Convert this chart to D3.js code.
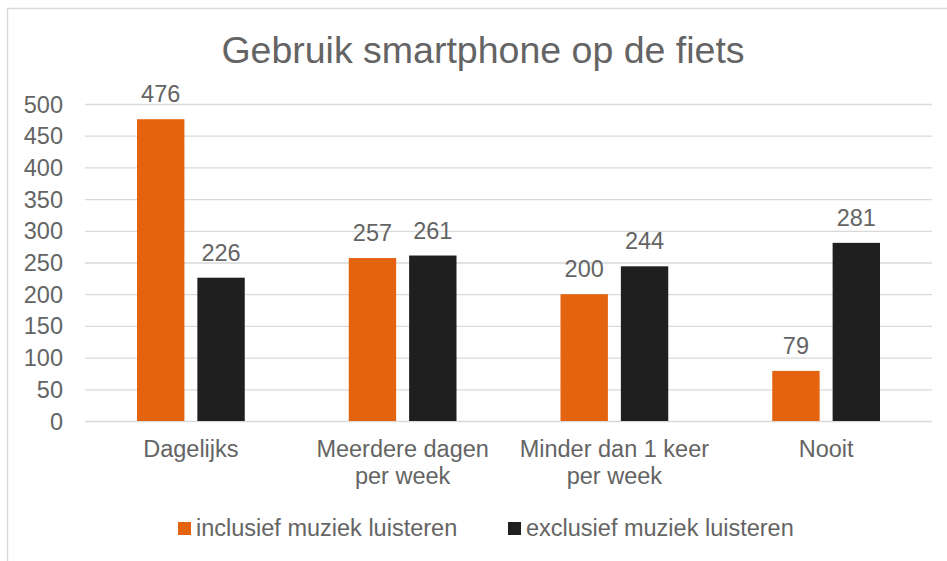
<!DOCTYPE html>
<html>
<head>
<meta charset="utf-8">
<script src="https://cdn.jsdelivr.net/npm/d3@7"></script>
<style>
  body { margin: 0; background: #fff; }
  text { font-family: "Liberation Sans", Arial, sans-serif; fill: #646464; }
</style>
</head>
<body>
<svg id="chart" width="947" height="561"></svg>
<script>
// data
const categories = [["Dagelijks"], ["Meerdere dagen", "per week"], ["Minder dan 1 keer", "per week"], ["Nooit"]];
const seriesNames = ["inclusief muziek luisteren", "exclusief muziek luisteren"];
const inclusief = [476, 257, 200, 79];
const exclusief = [226, 261, 244, 281];
const yTicks = [0, 50, 100, 150, 200, 250, 300, 350, 400, 450, 500];
const colors = ["#E4630E", "#1F1F1F"];

const fontSize = "23.5px";
const svg = d3.select("#chart");

// chart frame (runs off right and bottom edge like the original)
svg.append("rect")
    .attr("x", 7.5).attr("y", 8.5)
    .attr("width", 960).attr("height", 570)
    .attr("fill", "#fff")
    .attr("stroke", "#d9d9d9")
    .attr("stroke-width", 1.5);

svg.append("text")
    .attr("x", 483).attr("y", 63)
    .attr("text-anchor", "middle")
    .style("font-size", "37.5px")
    .text("Gebruik smartphone op de fiets");

const x = d3.scaleBand()
    .domain(d3.range(categories.length))
    .range([85, 932]);

const x1 = d3.scaleBand()
    .domain([0, 1])
    .range([52, x.bandwidth() - 52])
    .paddingInner(0.215);

const y = d3.scaleLinear().domain([0, 500]).range([421, 104]);

// gridlines
svg.append("g").selectAll("line")
    .data(yTicks)
    .enter().append("line")
    .attr("x1", 85).attr("x2", 932)
    .attr("y1", d => y(d) + 0.5).attr("y2", d => y(d) + 0.5)
    .attr("stroke", "#d9d9d9")
    .attr("stroke-width", 1.3);

// y tick labels
svg.append("g").selectAll("text")
    .data(yTicks)
    .enter().append("text")
    .attr("x", 63)
    .attr("y", d => y(d) + 8.5)
    .attr("text-anchor", "end")
    .style("font-size", fontSize)
    .text(d => d);

const series = [inclusief, exclusief];
series.forEach((vals, s) => {
    const g = svg.append("g");
    g.selectAll("rect")
        .data(vals)
        .enter().append("rect")
        .attr("x", (d, i) => x(i) + x1(s))
        .attr("y", d => y(d))
        .attr("width", x1.bandwidth())
        .attr("height", d => y(0) - y(d))
        .attr("fill", colors[s]);

    g.selectAll("text")
        .data(vals)
        .enter().append("text")
        .attr("x", (d, i) => x(i) + x1(s) + x1.bandwidth() / 2)
        .attr("y", d => y(d) - 17)
        .attr("text-anchor", "middle")
        .style("font-size", fontSize)
        .text(d => d);
});

// category labels
const cat = svg.append("g").selectAll("text")
    .data(categories)
    .enter().append("text")
    .attr("x", (d, i) => x(i) + x.bandwidth() / 2)
    .attr("y", 457)
    .attr("text-anchor", "middle")
    .style("font-size", fontSize);
cat.selectAll("tspan")
    .data(d => d)
    .enter().append("tspan")
    .attr("x", function() { return d3.select(this.parentNode).attr("x"); })
    .attr("dy", (d, i) => i === 0 ? 0 : 26.5)
    .text(d => d);

// legend
const legendX = [178, 508];
const legend = svg.append("g").selectAll("g")
    .data(seriesNames)
    .enter().append("g")
    .attr("transform", (d, i) => `translate(${legendX[i]},522)`);
legend.append("rect")
    .attr("width", 13).attr("height", 13)
    .attr("fill", (d, i) => colors[i]);
legend.append("text")
    .attr("x", 18).attr("y", 14)
    .style("font-size", fontSize)
    .text(d => d);
</script>
</body>
</html>
